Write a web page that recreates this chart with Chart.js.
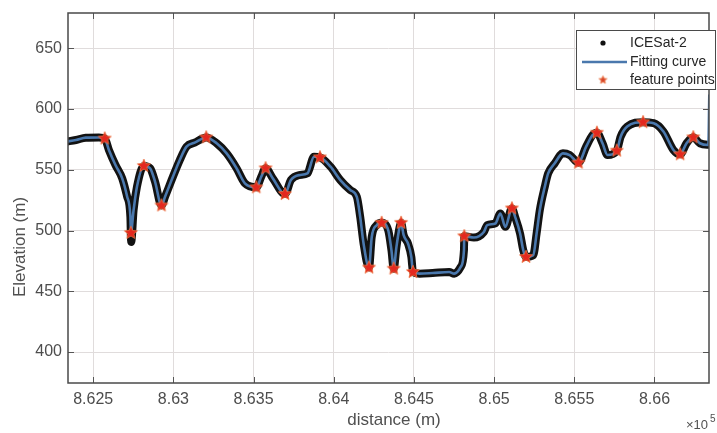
<!DOCTYPE html>
<html><head><meta charset="utf-8">
<script src="https://cdn.jsdelivr.net/npm/chart.js@4/dist/chart.umd.min.js"></script>
<style>html,body{margin:0;padding:0;background:#fff;}canvas{display:block;}</style>
</head><body>
<canvas id="c" width="717" height="433"></canvas>
<script>
const xTicks = [8.625, 8.63, 8.635, 8.64, 8.645, 8.65, 8.655, 8.66];
const xTickLabels = ['8.625', '8.63', '8.635', '8.64', '8.645', '8.65', '8.655', '8.66'];
const yTicks = [400, 450, 500, 550, 600, 650];
const yTickLabels = ['400', '450', '500', '550', '600', '650'];

const fitDistance = [8.62331,8.62393,8.62454,8.62536,8.62572,8.62598,8.62639,8.62681,8.62712,8.62732,8.62735,8.62752,8.62773,8.62816,8.62855,8.62886,8.62926,8.62948,8.62989,8.63040,8.63082,8.63133,8.63205,8.63270,8.63332,8.63394,8.63446,8.63517,8.63548,8.63575,8.63620,8.63696,8.63733,8.63785,8.63836,8.63877,8.63914,8.63980,8.64041,8.64103,8.64144,8.64165,8.64186,8.64220,8.64237,8.64268,8.64299,8.64340,8.64360,8.64374,8.64391,8.64411,8.64420,8.64436,8.64463,8.64484,8.64494,8.64535,8.64617,8.64720,8.64751,8.64792,8.64812,8.64814,8.64874,8.64936,8.64957,8.65008,8.65039,8.65070,8.65111,8.65131,8.65162,8.65182,8.65199,8.65244,8.65265,8.65285,8.65316,8.65337,8.65378,8.65429,8.65471,8.65526,8.65574,8.65614,8.65641,8.65676,8.65707,8.65765,8.65789,8.65830,8.65929,8.65995,8.66056,8.66118,8.66160,8.66200,8.66242,8.66283,8.66336,8.66342];
const fitElevation = [573.1,574.5,576.4,576.6,575.7,566.3,553.9,542.9,527.7,511.2,498.0,516.8,536.0,553.1,551.2,540.1,520.6,527.7,541.5,558.0,569.0,572.3,576.6,571.8,563.5,551.2,538.8,535.5,544.2,551.2,542.9,530.0,541.5,545.6,547.0,560.7,560.2,552.5,541.5,533.3,527.7,511.2,489.3,469.5,494.7,504.4,506.3,500.2,483.7,468.6,486.5,503.0,506.3,496.1,489.3,478.2,465.8,464.5,465.0,465.8,464.5,470.0,483.7,495.3,494.2,498.8,504.4,505.8,514.0,503.0,518.2,511.2,497.5,483.7,478.2,479.6,497.5,516.8,536.0,547.0,555.3,563.5,562.1,555.8,569.0,578.6,580.5,571.8,562.1,565.7,577.2,585.5,589.1,588.3,581.4,566.3,562.7,571.8,576.7,571.8,570.4,612.0];

const photonDistance = [8.62331,8.62393,8.62454,8.62536,8.62572,8.62598,8.62639,8.62681,8.62712,8.62732,8.62735,8.62737,8.62752,8.62773,8.62816,8.62855,8.62886,8.62926,8.62948,8.62989,8.63040,8.63082,8.63133,8.63205,8.63270,8.63332,8.63394,8.63446,8.63517,8.63548,8.63575,8.63620,8.63696,8.63733,8.63785,8.63836,8.63877,8.63914,8.63980,8.64041,8.64103,8.64144,8.64165,8.64186,8.64220,8.64237,8.64268,8.64299,8.64340,8.64360,8.64374,8.64391,8.64411,8.64420,8.64436,8.64463,8.64484,8.64494,8.64535,8.64617,8.64720,8.64751,8.64792,8.64812,8.64814,8.64874,8.64936,8.64957,8.65008,8.65039,8.65070,8.65111,8.65131,8.65162,8.65182,8.65199,8.65244,8.65265,8.65285,8.65316,8.65337,8.65378,8.65429,8.65471,8.65526,8.65574,8.65614,8.65641,8.65676,8.65707,8.65765,8.65789,8.65830,8.65929,8.65995,8.66056,8.66118,8.66160,8.66200,8.66242,8.66283,8.66350];
const photonElevation = [573.1,574.5,576.4,576.6,575.7,566.3,553.9,542.9,527.7,511.2,496.0,490.6,516.8,536.0,553.1,551.2,540.1,520.6,527.7,541.5,558.0,569.0,572.3,576.6,571.8,563.5,551.2,538.8,535.5,544.2,551.2,542.9,530.0,541.5,545.6,547.0,560.7,560.2,552.5,541.5,533.3,527.7,511.2,489.3,469.5,494.7,504.4,506.3,500.2,483.7,468.6,486.5,503.0,506.3,496.1,489.3,478.2,465.8,464.5,465.0,465.8,464.5,470.0,483.7,495.3,494.2,498.8,504.4,505.8,514.0,503.0,518.2,511.2,497.5,483.7,478.2,479.6,497.5,516.8,536.0,547.0,555.3,563.5,562.1,555.8,569.0,578.6,580.5,571.8,562.1,565.7,577.2,585.5,589.1,588.3,581.4,566.3,562.7,571.8,576.7,571.8,570.4];

const featureDistance = [8.62572,8.62735,8.62816,8.62926,8.63205,8.63517,8.63575,8.63696,8.63914,8.64220,8.64299,8.64374,8.64420,8.64494,8.64814,8.65111,8.65199,8.65526,8.65641,8.65765,8.65929,8.66160,8.66242];
const featureElevation = [575.7,498.0,553.1,520.6,576.6,535.5,551.2,530.0,560.2,469.5,506.3,468.6,506.3,465.8,495.3,518.2,478.2,555.8,580.5,565.7,589.1,562.7,576.7];

const legendLabels = ['ICESat-2', 'Fitting curve', 'feature points'];
const xTitle = 'distance (m)';
const yTitle = 'Elevation (m)';

const FONT = "'Liberation Sans', Arial, Helvetica, sans-serif";
Chart.defaults.font.family = FONT;

function makeStar(r, fill, stroke) {
  const s = Math.ceil(r * 2 + 4);
  const c = document.createElement('canvas');
  c.width = s; c.height = s;
  const g = c.getContext('2d');
  g.beginPath();
  for (let i = 0; i < 10; i++) {
    const ang = -Math.PI / 2 + i * Math.PI / 5;
    const rr = i % 2 === 0 ? r : r * 0.45;
    g.lineTo(s / 2 + rr * Math.cos(ang), s / 2 + rr * Math.sin(ang));
  }
  g.closePath();
  g.fillStyle = fill; g.fill();
  g.strokeStyle = stroke; g.lineWidth = 1; g.stroke();
  return c;
}
const starImg = makeStar(6.8, '#e3281f', 'rgba(235,110,60,0.85)');
const starSmall = makeStar(4.2, '#d8452a', 'rgba(235,120,70,0.8)');

const toPts = (xs, ys) => xs.map((x, i) => ({ x: x, y: ys[i] }));

const decor = {
  id: 'decor',
  afterDraw(chart) {
    const ctx = chart.ctx, a = chart.chartArea;
    const xs = chart.scales.x, ys = chart.scales.y;
    ctx.save();
    const ln = (x1, y1, x2, y2) => { ctx.beginPath(); ctx.moveTo(x1, y1); ctx.lineTo(x2, y2); ctx.stroke(); };
    // inward ticks
    ctx.strokeStyle = '#555'; ctx.lineWidth = 1;
    xTicks.forEach(v => { const p = Math.round(xs.getPixelForValue(v)) + 0.5; ln(p, a.bottom, p, a.bottom - 6); ln(p, a.top, p, a.top + 6); });
    yTicks.forEach(v => { const p = Math.round(ys.getPixelForValue(v)) + 0.5; ln(a.left, p, a.left + 6, p); ln(a.right, p, a.right - 6, p); });
    // box
    ctx.strokeStyle = '#4a4a4a'; ctx.lineWidth = 1.5;
    ctx.strokeRect(a.left, a.top, a.right - a.left, a.bottom - a.top);
    // axis titles
    ctx.fillStyle = '#505050';
    ctx.font = '17px ' + FONT;
    ctx.textAlign = 'center'; ctx.textBaseline = 'middle';
    ctx.fillText(xTitle, 394, 420);
    ctx.save();
    ctx.translate(20, 247); ctx.rotate(-Math.PI / 2);
    ctx.fillText(yTitle, 0, 0);
    ctx.restore();
    // exponent
    ctx.textAlign = 'left'; ctx.textBaseline = 'alphabetic';
    ctx.font = '13px ' + FONT;
    ctx.fillText('\u00d710', 686, 429);
    ctx.font = '10px ' + FONT;
    ctx.fillText('5', 710, 422);
    // legend
    const lx = 576, ly = 30, lw = 140, lh = 60;
    ctx.fillStyle = '#fff';
    ctx.fillRect(lx, ly, lw, lh);
    ctx.strokeStyle = '#4a4a4a'; ctx.lineWidth = 1;
    ctx.strokeRect(lx + 0.5, ly + 0.5, lw - 1, lh - 1);
    ctx.fillStyle = '#111';
    ctx.beginPath(); ctx.arc(603, 43, 2.6, 0, Math.PI * 2); ctx.fill();
    ctx.strokeStyle = '#4a78ad'; ctx.lineWidth = 2.5;
    ln(582, 62, 627, 62);
    ctx.drawImage(starSmall, 603 - starSmall.width / 2, 80 - starSmall.height / 2);
    ctx.fillStyle = '#262626';
    ctx.font = '14px ' + FONT;
    ctx.textBaseline = 'middle';
    ctx.fillText(legendLabels[0], 630, 43);
    ctx.fillText(legendLabels[1], 630, 62);
    ctx.fillText(legendLabels[2], 630, 80);
    ctx.restore();
  }
};

new Chart(document.getElementById('c'), {
  type: 'line',
  data: {
    datasets: [
      { label: legendLabels[2], data: toPts(featureDistance, featureElevation), showLine: false,
        pointStyle: starImg, pointRadius: 7, order: 1 },
      { label: legendLabels[1], data: toPts(fitDistance, fitElevation), borderColor: '#4a78ad',
        borderWidth: 2.6, pointRadius: 0, fill: false, cubicInterpolationMode: 'monotone', clip: 0, order: 2 },
      { label: legendLabels[0], data: toPts(photonDistance, photonElevation), borderColor: '#121212',
        borderWidth: 8, pointRadius: 0, fill: false, borderJoinStyle: 'round', borderCapStyle: 'round',
        cubicInterpolationMode: 'monotone', clip: 0, order: 3 }
    ]
  },
  options: {
    responsive: false, animation: false, devicePixelRatio: 1,
    layout: { padding: { left: 0, top: 13, right: 1, bottom: 0 } },
    plugins: { legend: { display: false }, tooltip: { enabled: false } },
    scales: {
      x: {
        type: 'linear', min: 8.62343, max: 8.66340,
        afterBuildTicks: s => { s.ticks = xTicks.map(v => ({ value: v })); },
        afterFit: s => { s.height = 50; s.paddingLeft = 0; s.paddingRight = 0; },
        grid: { color: '#e0dcdc', lineWidth: 1, drawTicks: false },
        border: { display: false },
        ticks: { padding: 7, color: '#4d4d4d', font: { size: 16 }, maxRotation: 0, autoSkip: false,
          callback: (v, i) => xTickLabels[i] }
      },
      y: {
        type: 'linear', min: 374.5, max: 679,
        afterBuildTicks: s => { s.ticks = yTicks.map(v => ({ value: v })); },
        afterFit: s => { s.width = 68; s.paddingTop = 0; s.paddingBottom = 0; },
        grid: { color: '#e0dcdc', lineWidth: 1, drawTicks: false },
        border: { display: false },
        ticks: { padding: 6, color: '#4d4d4d', font: { size: 16 }, autoSkip: false,
          callback: (v, i) => yTickLabels[i] }
      }
    }
  },
  plugins: [decor]
});
</script>
</body></html>
